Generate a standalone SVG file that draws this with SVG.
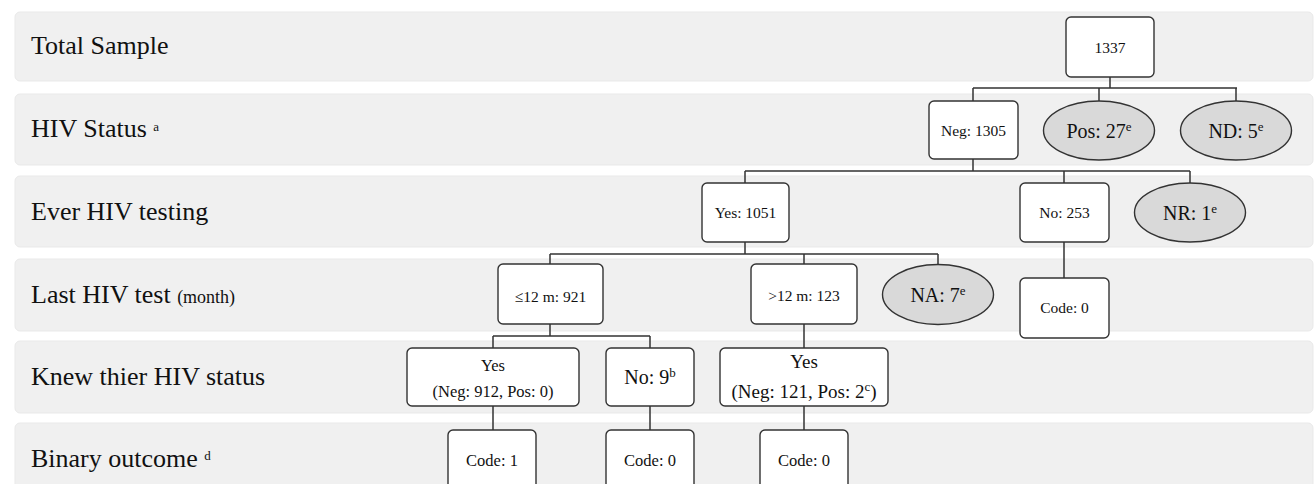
<svg xmlns="http://www.w3.org/2000/svg" width="1314" height="484" viewBox="0 0 1314 484">
<style>
.band{fill:#f0f0f0;stroke:#e9e9e9;stroke-width:1}
.lbl{font-family:"Liberation Serif","Times New Roman",serif;font-size:26px;fill:#111}
.box{fill:#fff;stroke:#333;stroke-width:1.4}
.ell{fill:#d9d9d9;stroke:#333;stroke-width:1.4}
.t{font-family:"Liberation Serif","Times New Roman",serif;fill:#111;text-anchor:middle}
.s15{font-size:15.5px}
.s16{font-size:16.5px}
.s19{font-size:19px}
.s20{font-size:20px}
.sup{font-size:13px}
.con{fill:none;stroke:#333;stroke-width:1.5}
</style>
<g id="bands">
<rect class="band" x="15" y="12" width="1298" height="69" rx="5"/>
<rect class="band" x="15" y="94" width="1298" height="71" rx="5"/>
<rect class="band" x="15" y="176" width="1298" height="71" rx="5"/>
<rect class="band" x="15" y="259" width="1298" height="72" rx="5"/>
<rect class="band" x="15" y="341" width="1298" height="72" rx="5"/>
<rect class="band" x="15" y="423" width="1298" height="80" rx="5"/>
</g>
<g id="row-labels">
<text class="lbl" x="31" y="54">Total Sample</text>
<text class="lbl" x="31" y="137">HIV Status <tspan class="sup" dy="-6">a</tspan></text>
<text class="lbl" x="31" y="220">Ever HIV testing</text>
<text class="lbl" x="31" y="303">Last HIV test <tspan font-size="18px">(month)</tspan></text>
<text class="lbl" x="31" y="385">Knew thier HIV status</text>
<text class="lbl" x="31" y="467">Binary outcome <tspan class="sup" dy="-7">d</tspan></text>
</g>
<g id="connectors">
<path class="con" d="M1110 77V88M973 88H1237M973 88V101M1099 88V101M1236 88V101"/>
<path class="con" d="M973 159V171M745 171H1190M745 171V183M1064 171V183M1190 171V183"/>
<path class="con" d="M745 242V254M550 254H938M550 254V264M804 254V264M938 254V265"/>
<path class="con" d="M1064 242V278"/>
<path class="con" d="M550 324V336M493 336H650M493 336V348M650 336V348"/>
<path class="con" d="M804 324V348"/>
<path class="con" d="M493 406V430M650 406V430M804 406V430"/>
</g>
<g id="n1337"><rect class="box" x="1066" y="17" width="88" height="60" rx="5"/><text class="t s15" x="1110" y="53">1337</text></g>
<g id="neg1305"><rect class="box" x="929" y="101" width="89" height="58" rx="5"/><text class="t s15" x="973.5" y="136">Neg: 1305</text></g>
<g id="pos27"><ellipse class="ell" cx="1099" cy="130.5" rx="55.5" ry="29.5"/><text class="t s20" x="1099" y="138">Pos: 27<tspan class="sup" dy="-7">e</tspan></text></g>
<g id="nd5"><ellipse class="ell" cx="1236" cy="130.5" rx="55.5" ry="29.5"/><text class="t s20" x="1236" y="138">ND: 5<tspan class="sup" dy="-7">e</tspan></text></g>
<g id="yes1051"><rect class="box" x="702" y="183" width="87" height="59" rx="5"/><text class="t s15" x="745.5" y="218">Yes: 1051</text></g>
<g id="no253"><rect class="box" x="1020" y="183" width="89" height="59" rx="5"/><text class="t s15" x="1064.5" y="218">No: 253</text></g>
<g id="nr1"><ellipse class="ell" cx="1190" cy="212.5" rx="55.5" ry="29.5"/><text class="t s20" x="1190" y="220">NR: 1<tspan class="sup" dy="-7">e</tspan></text></g>
<g id="le12"><rect class="box" x="498" y="264" width="105" height="60" rx="5"/><text class="t s15" x="550.5" y="302">≤12 m: 921</text></g>
<g id="gt12"><rect class="box" x="751" y="264" width="106" height="60" rx="5"/><text class="t s15" x="804" y="301">&gt;12 m: 123</text></g>
<g id="na7"><ellipse class="ell" cx="938" cy="294.5" rx="55.5" ry="30"/><text class="t s20" x="938" y="302">NA: 7<tspan class="sup" dy="-7">e</tspan></text></g>
<g id="code0-right"><rect class="box" x="1020" y="278" width="89" height="60" rx="5"/><text class="t s15" x="1064.5" y="313">Code: 0</text></g>
<g id="yes912"><rect class="box" x="407" y="348" width="172" height="58" rx="5"/><text class="t s16" x="493" y="371">Yes</text><text class="t s16" x="493" y="397">(Neg: 912, Pos: 0)</text></g>
<g id="no9"><rect class="box" x="606" y="348" width="88" height="58" rx="5"/><text class="t s20" x="650" y="384">No: 9<tspan class="sup" dy="-7">b</tspan></text></g>
<g id="yes121"><rect class="box" x="720" y="348" width="168" height="58" rx="5"/><text class="t s19" x="804" y="368">Yes</text><text class="t s19" x="804" y="398">(Neg: 121, Pos: 2<tspan class="sup" dy="-7">c</tspan><tspan dy="7">)</tspan></text></g>
<g id="code1"><rect class="box" x="448" y="430" width="88" height="70" rx="5"/><text class="t s16" x="492" y="466">Code: 1</text></g>
<g id="code0-mid"><rect class="box" x="606" y="430" width="88" height="70" rx="5"/><text class="t s16" x="650" y="466">Code: 0</text></g>
<g id="code0-third"><rect class="box" x="760" y="430" width="88" height="70" rx="5"/><text class="t s16" x="804" y="466">Code: 0</text></g>
</svg>
